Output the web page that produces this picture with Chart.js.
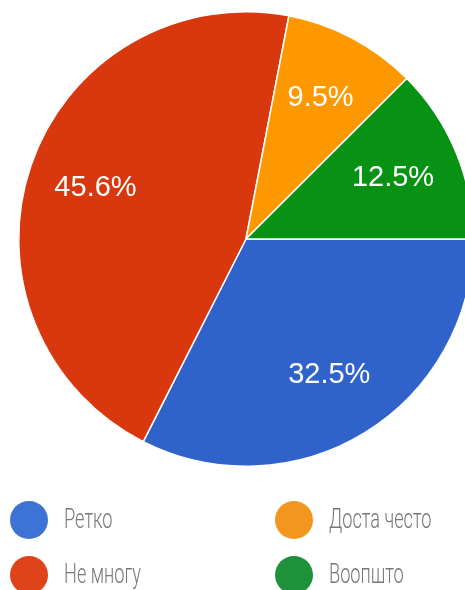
<!DOCTYPE html>
<html>
<head>
<meta charset="utf-8">
<script src="https://cdn.jsdelivr.net/npm/chart.js@4.4.1/dist/chart.umd.min.js"></script>
<style>
  html, body { margin: 0; padding: 0; background: #fff; overflow: hidden; }
  #wrap { position: absolute; left: 0; top: 0; width: 480px; height: 590px; }
</style>
</head>
<body>
<div id="wrap"><canvas id="pie"></canvas></div>
<script>
// Survey answers
const categories = ['Ретко', 'Не многу', 'Доста често', 'Воопшто'];
const percentages = [32.5, 45.6, 9.5, 12.5];
const sliceColors = ['#2f63c9', '#d9380f', '#fe9800', '#079213'];
const legendColors = ['#3c73d4', '#df431a', '#f3961f', '#1f913a'];

// Draws the percentage inside each slice, a bit further out than the default centre point
const sliceLabels = {
  id: 'sliceLabels',
  afterDatasetsDraw(chart) {
    const ctx = chart.ctx;
    const arcs = chart.getDatasetMeta(0).data;
    ctx.save();
    ctx.fillStyle = '#ffffff';
    ctx.font = '29px "Liberation Sans", Arial, sans-serif';
    ctx.textAlign = 'center';
    ctx.textBaseline = 'middle';
    arcs.forEach((arc, i) => {
      const p = arc.getProps(['x', 'y', 'startAngle', 'endAngle', 'outerRadius'], true);
      const mid = (p.startAngle + p.endAngle) / 2;
      const r = p.outerRadius * 0.7;
      ctx.fillText(percentages[i].toFixed(1) + '%', p.x + Math.cos(mid) * r, p.y + Math.sin(mid) * r);
    });
    ctx.restore();
  }
};

// Two-column legend below the pie (first two items left, last two right)
const gridLegend = {
  id: 'gridLegend',
  afterDraw(chart) {
    const ctx = chart.ctx;
    const colX = [29, 294];
    const rowY = [520, 575];
    ctx.save();
    categories.forEach((label, k) => {
      const cx = colX[Math.floor(k / 2)];
      const cy = rowY[k % 2];
      ctx.fillStyle = legendColors[k];
      ctx.beginPath();
      ctx.arc(cx, cy, 19, 0, Math.PI * 2);
      ctx.fill();

      // condensed light text
      ctx.save();
      ctx.translate(cx + 35, cy);
      ctx.scale(0.65, 1);
      ctx.fillStyle = '#777777';
      ctx.font = '300 28px Roboto, sans-serif';
      ctx.textAlign = 'left';
      ctx.textBaseline = 'middle';
      ctx.fillText(label, 0, 1);
      ctx.restore();
    });
    ctx.restore();
  }
};

new Chart(document.getElementById('pie').getContext('2d'), {
  type: 'pie',
  data: {
    labels: categories,
    datasets: [{
      data: percentages,
      backgroundColor: sliceColors,
      borderColor: '#ffffff',
      borderWidth: 1.5
    }]
  },
  options: {
    responsive: true,
    maintainAspectRatio: false,
    animation: false,
    rotation: 90,
    layout: { padding: { left: 18, top: 11, right: 6, bottom: 123 } },
    plugins: {
      legend: { display: false },
      tooltip: { enabled: false }
    }
  },
  plugins: [sliceLabels, gridLegend]
});
</script>
</body>
</html>
